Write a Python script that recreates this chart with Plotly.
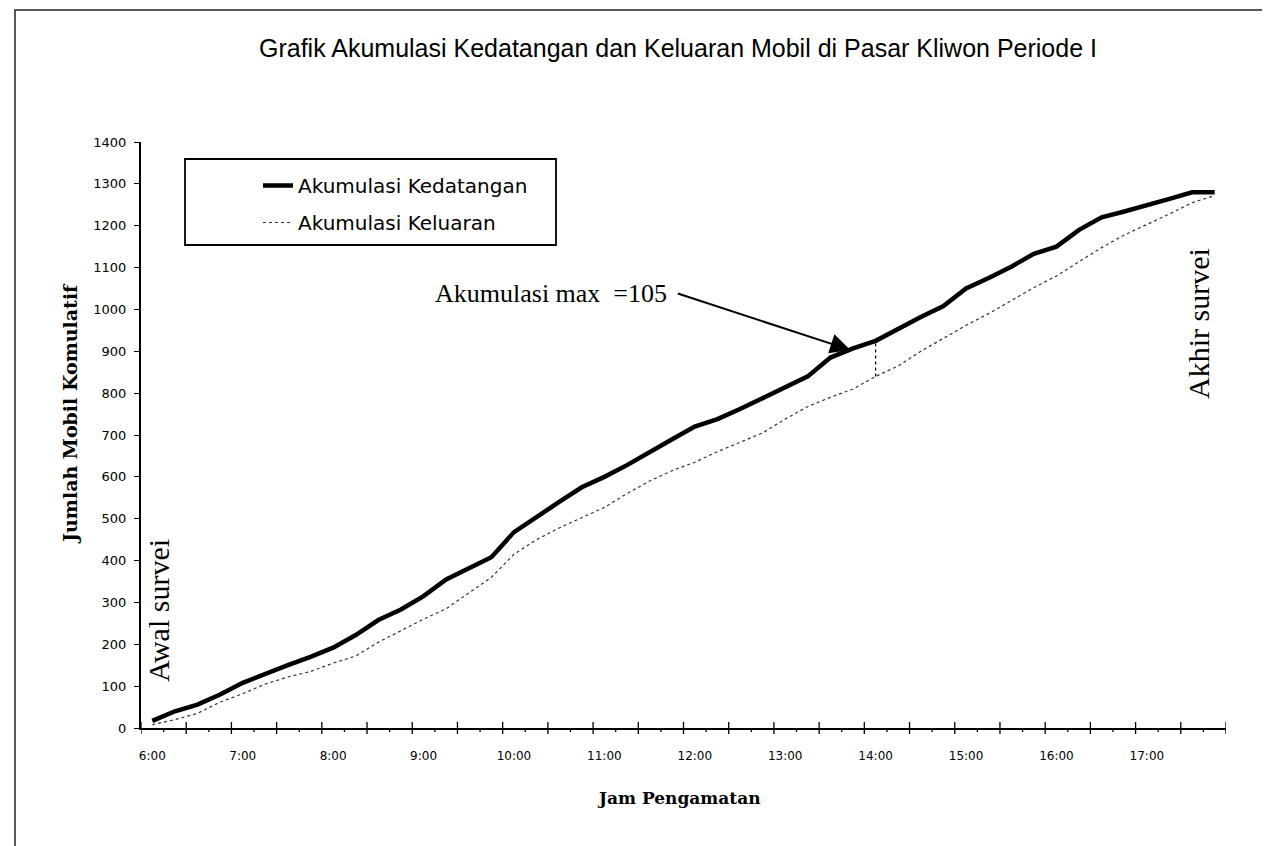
import plotly.graph_objects as go

# ---- data ----
times = [f"{h}:{m:02d}" for h in range(6, 18) for m in (0, 15, 30, 45)]
kedatangan = [17, 40, 56, 80, 108, 130, 150, 170, 192, 222, 258, 283,
              315, 355, 382, 408, 468, 505, 540, 575, 600, 628, 660, 690,
              720, 738, 762, 788, 815, 840, 885, 907, 925, 955, 982, 1008,
              1050, 1075, 1102, 1133, 1150, 1190, 1220, 1234, 1248, 1264, 1280, 1280]
keluaran = [8, 20, 35, 62, 82, 105, 122, 135, 155, 172, 205, 232,
            260, 285, 322, 360, 415, 450, 478, 503, 527, 560, 590, 615,
            635, 660, 682, 705, 738, 768, 790, 810, 840, 865, 900, 932,
            962, 990, 1022, 1052, 1080, 1115, 1148, 1178, 1203, 1228, 1255, 1272]
tick_labels = [f"{h}:00" for h in range(6, 18)]
y_ticks = list(range(0, 1401, 100))
MAX_IDX = 32

def to_hours(s):
    h, m = s.split(":")
    return int(h) + int(m) / 60.0

x = [to_hours(t) for t in times]
tickvals = [to_hours(t) for t in tick_labels]
step = 0.25
x_lo, x_hi = x[0] - step / 2, x[-1] + step / 2

fig = go.Figure()
fig.add_trace(go.Scatter(x=x, y=kedatangan, mode="lines", name="Akumulasi Kedatangan",
                         legendgroup="a", line=dict(color="black", width=4.5)))
fig.add_trace(go.Scatter(x=x, y=keluaran, mode="lines", name="Akumulasi Keluaran",
                         legendgroup="b", line=dict(color="#333333", width=1.2, dash="dot")))
fig.add_trace(go.Scatter(x=[x[MAX_IDX], x[MAX_IDX]], y=[keluaran[MAX_IDX], kedatangan[MAX_IDX]],
                         mode="lines", showlegend=False,
                         line=dict(color="black", width=1.2, dash="dot")))

W, H = 1270, 846
L, R, T, B = 133, 52, 134, 126
pw, ph = W - L - R, H - T - B

def px(xp):
    return (xp - L) / pw

def py(yp):
    return (H - B - yp) / ph

shapes = []
# x-axis tick marks at category boundaries
nb = len(times) + 1
for k in range(nb):
    bx = x_lo + k * step
    if k % 2 == 0:
        y0, y1 = -6 / ph, 6 / ph
    else:
        y0, y1 = -4 / ph, 0
    shapes.append(dict(type="line", xref="x", yref="paper", x0=bx, x1=bx, y0=y0, y1=y1,
                       line=dict(color="black", width=1.3)))
# legend box
shapes.append(dict(type="rect", xref="paper", yref="paper",
                   x0=px(177), x1=px(548), y0=py(237), y1=py(151),
                   line=dict(color="black", width=1.8)))
# outer border
shapes.append(dict(type="rect", xref="paper", yref="paper",
                   x0=px(7), x1=px(1267), y0=py(843), y1=py(2),
                   line=dict(color="#222222", width=1.5)))

def ann(text, xp, yp, size, family, angle=0, **kw):
    return dict(text=text, xref="paper", yref="paper", x=px(xp), y=py(yp),
                xanchor=kw.get("xanchor", "center"), yanchor="middle",
                textangle=angle, showarrow=False,
                font=dict(family=family, size=size, color="black"))

annotations = [
    ann("<b>Jumlah Mobil Komulatif</b>", 62, 406, 19, "DejaVu Serif", -90),
    ann("<b>Jam Pengamatan</b>", 671, 790, 17, "DejaVu Serif"),
    ann("Awal survei", 150, 603, 30, "Liberation Serif", -90),
    ann("Akhir survei", 1190, 316, 30, "Liberation Serif", -90),
    ann("Akumulasi max \u00a0=105", 425, 285, 26, "Liberation Serif", xanchor="left"),
    dict(text="", x=13.72, y=903, xref="x", yref="y", showarrow=True,
         ax=-174, ay=-57, arrowhead=2, arrowsize=2, arrowwidth=2, arrowcolor="black"),
]

fig.update_layout(
    width=W, height=H,
    margin=dict(l=L, r=R, t=T, b=B),
    paper_bgcolor="white", plot_bgcolor="white",
    title=dict(text="Grafik Akumulasi Kedatangan dan Keluaran Mobil di Pasar Kliwon Periode I",
               x=670 / W, y=1 - 40 / H, xanchor="center", yanchor="middle",
               font=dict(family="Liberation Sans", size=25, color="black")),
    xaxis=dict(range=[x_lo, x_hi], tickmode="array", tickvals=tickvals, ticktext=tick_labels,
               ticks="", showgrid=False, zeroline=False, showline=True, linecolor="black",
               linewidth=2, ticklabelstandoff=16,
               tickfont=dict(family="DejaVu Sans", size=12, color="black")),
    yaxis=dict(range=[0, 1400], tickmode="array", tickvals=y_ticks, ticks="outside", ticklen=5,
               tickcolor="black", tickwidth=1, showgrid=False, zeroline=False, showline=True,
               linecolor="black", linewidth=2, ticklabelstandoff=5,
               tickfont=dict(family="DejaVu Sans", size=13, color="black")),
    legend=dict(x=px(250), y=py(158), xanchor="left", yanchor="top", bgcolor="rgba(0,0,0,0)",
                borderwidth=0, tracegroupgap=8,
                font=dict(family="Comic Sans MS, DejaVu Sans", size=20, color="black")),
    shapes=shapes,
    annotations=annotations,
    showlegend=True,
)

fig.write_html("out.html")
